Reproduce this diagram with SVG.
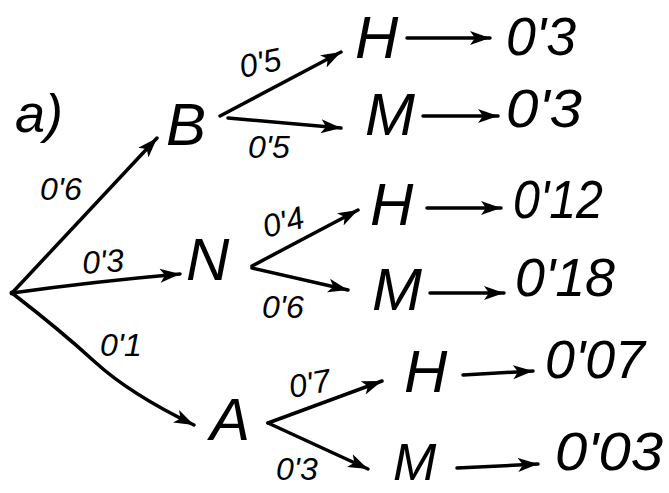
<svg xmlns="http://www.w3.org/2000/svg" width="669" height="493" viewBox="0 0 669 493">
<defs>
<marker id="ah" markerUnits="userSpaceOnUse" markerWidth="22" markerHeight="16" refX="20" refY="8" orient="auto">
<path d="M0,1 L20,8 L0,15 L5,8 Z" fill="#000"/>
</marker>
<style>
.t{font-family:"Liberation Sans",Arial,sans-serif;font-style:italic;fill:#000}
.big{font-size:60px}
.num{font-size:54px}
.lab{font-size:32px}
.e{fill:none;stroke:#000;stroke-width:3.5;stroke-linecap:round;marker-end:url(#ah)}
</style>
</defs>
<rect width="669" height="493" fill="#fff"/>
<g id="connectors">
<path class="e" d="M12,293 L157,138"/>
<path class="e" d="M12,293 Q90,282 180,274"/>
<path class="e" d="M12,293 Q60,330 95,362 T194,425"/>
<path class="e" d="M220,116 L341,52"/>
<path class="e" d="M228,118 L341,128"/>
<path class="e" d="M252,266 L358,210"/>
<path class="e" d="M252,268 L348,290"/>
<path class="e" d="M268,423 L382,381"/>
<path class="e" d="M268,423 L368,469"/>
<path class="e" d="M407,38 L490,38"/>
<path class="e" d="M423,116 L498,116"/>
<path class="e" d="M427,208 L501,208"/>
<path class="e" d="M430,293 L504,293"/>
<path class="e" d="M463,375 L533,371"/>
<path class="e" d="M457,468 L538,464"/>
</g>
<g id="label-a"><text class="t" x="15" y="132" font-size="54">a)</text></g>
<g id="root"><circle cx="12" cy="293" r="2.5" fill="#000"/></g>
<g id="node-B"><text class="t big" x="166" y="145">B</text></g>
<g id="node-N"><text class="t big" x="186" y="280">N</text></g>
<g id="node-A"><text class="t big" x="210" y="440">A</text></g>
<g id="node-BH"><text class="t big" x="355" y="58">H</text></g>
<g id="node-BM"><text class="t big" x="365" y="135">M</text></g>
<g id="node-NH"><text class="t big" x="370" y="225">H</text></g>
<g id="node-NM"><text class="t big" x="372" y="310">M</text></g>
<g id="node-AH"><text class="t big" x="404" y="392">H</text></g>
<g id="node-AM"><text class="t" x="393" y="480" font-size="52">M</text></g>
<g id="results">
<text class="t num" x="506" y="55" textLength="70" lengthAdjust="spacingAndGlyphs">0'3</text>
<text class="t num" x="506" y="127" textLength="76" lengthAdjust="spacingAndGlyphs">0'3</text>
<text class="t num" x="513" y="218" textLength="90" lengthAdjust="spacingAndGlyphs">0'12</text>
<text class="t num" x="515" y="296" textLength="100" lengthAdjust="spacingAndGlyphs">0'18</text>
<text class="t num" x="545" y="378" textLength="100" lengthAdjust="spacingAndGlyphs">0'07</text>
<text class="t num" x="555" y="470" textLength="108" lengthAdjust="spacingAndGlyphs">0'03</text>
</g>
<g id="edge-labels">
<text class="t lab" x="40" y="200">0'6</text>
<text class="t lab" x="242" y="78" transform="rotate(-12 242 78)">0'5</text>
<text class="t lab" x="248" y="158">0'5</text>
<text class="t lab" x="83" y="274" transform="rotate(-4 83 274)">0'3</text>
<text class="t lab" x="266" y="238" transform="rotate(-15 266 238)">0'4</text>
<text class="t lab" x="262" y="318">0'6</text>
<text class="t lab" x="100" y="356">0'1</text>
<text class="t lab" x="291" y="398" transform="rotate(-10 291 398)">0'7</text>
<text class="t lab" x="276" y="480">0'3</text>
</g>
</svg>
